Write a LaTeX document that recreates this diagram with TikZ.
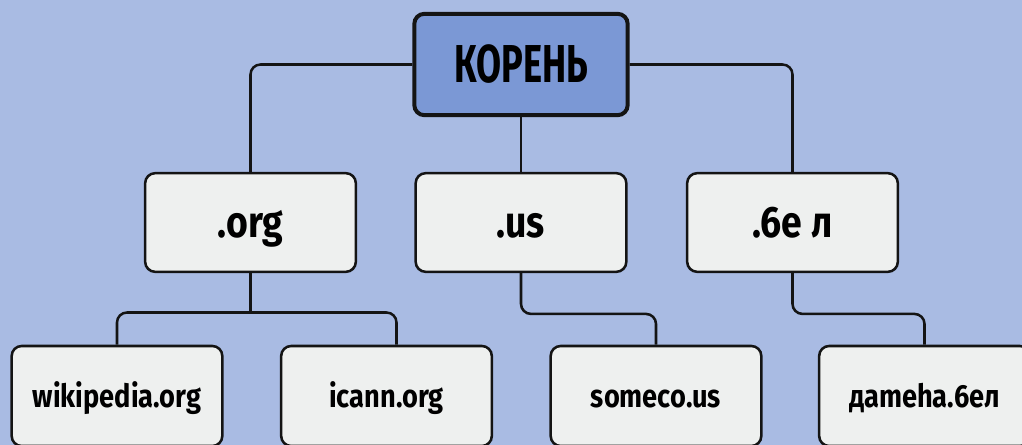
\documentclass[tikz,border=0pt]{standalone}
\usepackage{fontspec}
\newfontfamily\dnsfont{Fira Sans}[FakeStretch=0.85]
\newfontfamily\rootfont{Fira Sans}[FakeStretch=0.68]
\usetikzlibrary{positioning}
\usetikzlibrary{calc}
\definecolor{dnsback}{RGB}{169,187,227}
\definecolor{dnsroot}{RGB}{123,152,213}
\definecolor{dnsbox}{RGB}{238,240,239}

\tikzset{
	zone/.style={draw=black!92, line width=1.9pt, fill=dnsbox, rounded corners=7.5pt,
		minimum width=158pt, minimum height=74pt, inner sep=0pt, text height=23pt, text depth=0pt,
		font=\dnsfont\bfseries\fontsize{33}{40}\selectfont},
	rootzone/.style={zone, line width=3pt, fill=dnsroot, minimum width=160pt, minimum height=76pt,
		text height=27.5pt, font=\rootfont\bfseries\fontsize{40}{48}\selectfont},
	leaf/.style={zone, minimum height=75pt, text height=18pt,
		font=\dnsfont\bfseries\fontsize{24}{29}\selectfont},
	link/.style={draw=black!92, line width=1.9pt, rounded corners=7.5pt},
}

\begin{document}
\begin{tikzpicture}[x=0.75pt,y=0.75pt,yscale=-1,xscale=1]
		%background, same size as the original image
		\fill[dnsback] (0,0) rectangle (1022,445);
		\clip (0,0) rectangle (1022,445);
		
		%root
		\node[rootzone] (root) at (521,64.5) {КОРЕНЬ};
		
		%top level domains
		\node[zone] (org) at (250.5,222.5) {.org};
		\node[zone] (us) at (521,222.5) {.us};
		\node[zone] (bel) at (792.5,222.5) {.6е л};
		
		%second level
		\node[leaf] (wiki) at (117,396) {wikipedia.org};
		\node[leaf] (icann) at (386.5,396) {icann.org};
		\node[leaf] (someco) at (656,396) {someco.us};
		\node[leaf] (damena) at (924.5,396) {дameha.6eл};
		
		%links root -> tld
		\draw[link] (root.west) -| (org.north);
		\draw[link] (root.south) -- (us.north);
		\draw[link] (root.east) -| (bel.north);
		
		%links tld -> second level
		\coordinate (orgbus) at ($(org.south)!.55!(wiki.north)$);
		\draw[link] (org.south) -- (org.south |- orgbus);
		\draw[link] (wiki.north) |- (orgbus) -| ([xshift=7.5pt]icann.north);
		\draw[link] (us.south) |- ($(us.south)!.57!(someco.north)$) -| (someco.north);
		\draw[link] (bel.south) |- ($(bel.south)!.57!(damena.north)$) -| (damena.north);
		
	\end{tikzpicture}
\end{document}
